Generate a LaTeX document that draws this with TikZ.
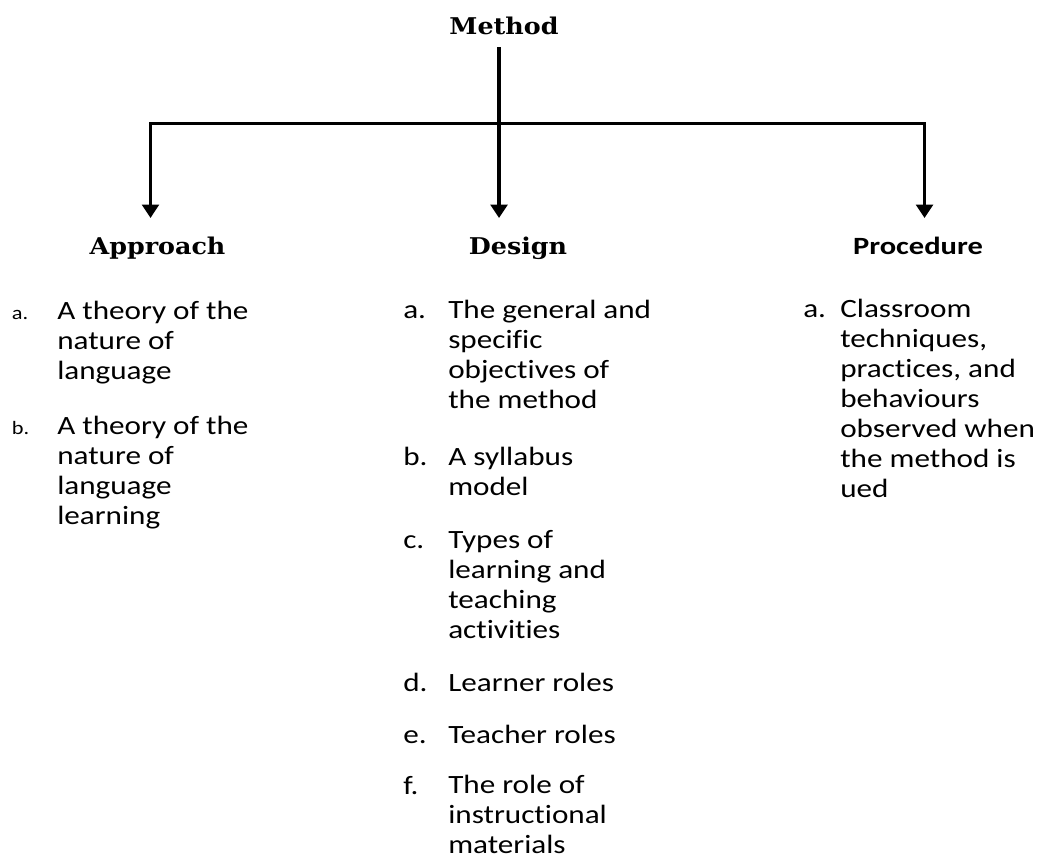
\documentclass[tikz,border=0pt]{standalone}
\usepackage{fontspec}
\setmainfont{Carlito}[FakeStretch=1.18,Ligatures=NoCommon]
\newfontfamily\headfont{DejaVu Serif}[FakeStretch=1.1]
\newfontfamily\procfont{Carlito}[FakeStretch=1.23,Ligatures=NoCommon]
\usetikzlibrary{arrows.meta}
\tikzset{
  conn/.style={line width=2.4pt},
  arr/.style={conn,-{Triangle[width=12.5pt,length=10pt]}},
  serifhead/.style={font=\headfont\bfseries\fontsize{17.3}{20}\selectfont, inner sep=0pt, anchor=base},
  prochead/.style={font=\procfont\bfseries\fontsize{18.6}{22}\selectfont, inner sep=0pt, anchor=base},
  itemtext/.style={font=\fontsize{19.8}{22.5}\selectfont, inner sep=0pt, anchor=base west, align=left},
  itemlab/.style={font=\fontsize{19.8}{22.5}\selectfont, inner sep=0pt, anchor=base west},
  smalllab/.style={font=\fontsize{14.2}{17}\selectfont, inner sep=0pt, anchor=base west}
}
\begin{document}
\begin{tikzpicture}[x=0.75pt,y=-0.75pt]
\useasboundingbox[fill=white] (0,0) rectangle (1044,857);

% headings
\node[serifhead] (method) at (504,34.3) {Method};
\node[serifhead] (approach) at (157.5,254) {Approach};
\node[serifhead] (design) at (518,254) {Design};
\node[prochead] (procedure) at (918,254) {Procedure};

% connectors
\coordinate (mstem) at (499,47);
\coordinate (jm) at (499,123.5);
\coordinate (tl) at (150.5,218);
\coordinate (tm) at (499,218);
\coordinate (tr) at (924.5,218);
\draw[arr] (jm) -| (tl);
\draw[arr] (jm) -| (tr);
\draw[arr] (mstem) -- (tm);

% Approach list (multi-line nodes are placed by the baseline of their last line)
\node[smalllab] (apa) at (11.7,319) {a.};
\node[itemtext] (apat) at (57,379) {A theory of the\\nature of\\language};
\node[smalllab] (apb) at (11.7,434) {b.};
\node[itemtext] (apbt) at (57,524) {A theory of the\\nature of\\language\\learning};

% Design list
\node[itemlab] (dea) at (403,318) {a.};
\node[itemtext] (deat) at (448,408) {The general and\\specific\\objectives of\\the method};
\node[itemlab] (deb) at (403,465) {b.};
\node[itemtext] (debt) at (448,495) {A syllabus\\model};
\node[itemlab] (dec) at (403,548) {c.};
\node[itemtext] (dect) at (448,638) {Types of\\learning and\\teaching\\activities};
\node[itemlab] (ded) at (403,691) {d.};
\node[itemtext] (dedt) at (448,691) {Learner roles};
\node[itemlab] (dee) at (403,743) {e.};
\node[itemtext] (deet) at (448,743) {Teacher roles};
\node[itemlab] (def) at (403,794) {f.};
\node[itemtext] (deft) at (448,853) {The role of\\instructional\\materials};

% Procedure list
\node[itemlab] (pra) at (803,317) {a.};
\node[itemtext] (prat) at (840,497) {Classroom\\techniques,\\practices, and\\behaviours\\observed when\\the method is\\ued};
\end{tikzpicture}
\end{document}
